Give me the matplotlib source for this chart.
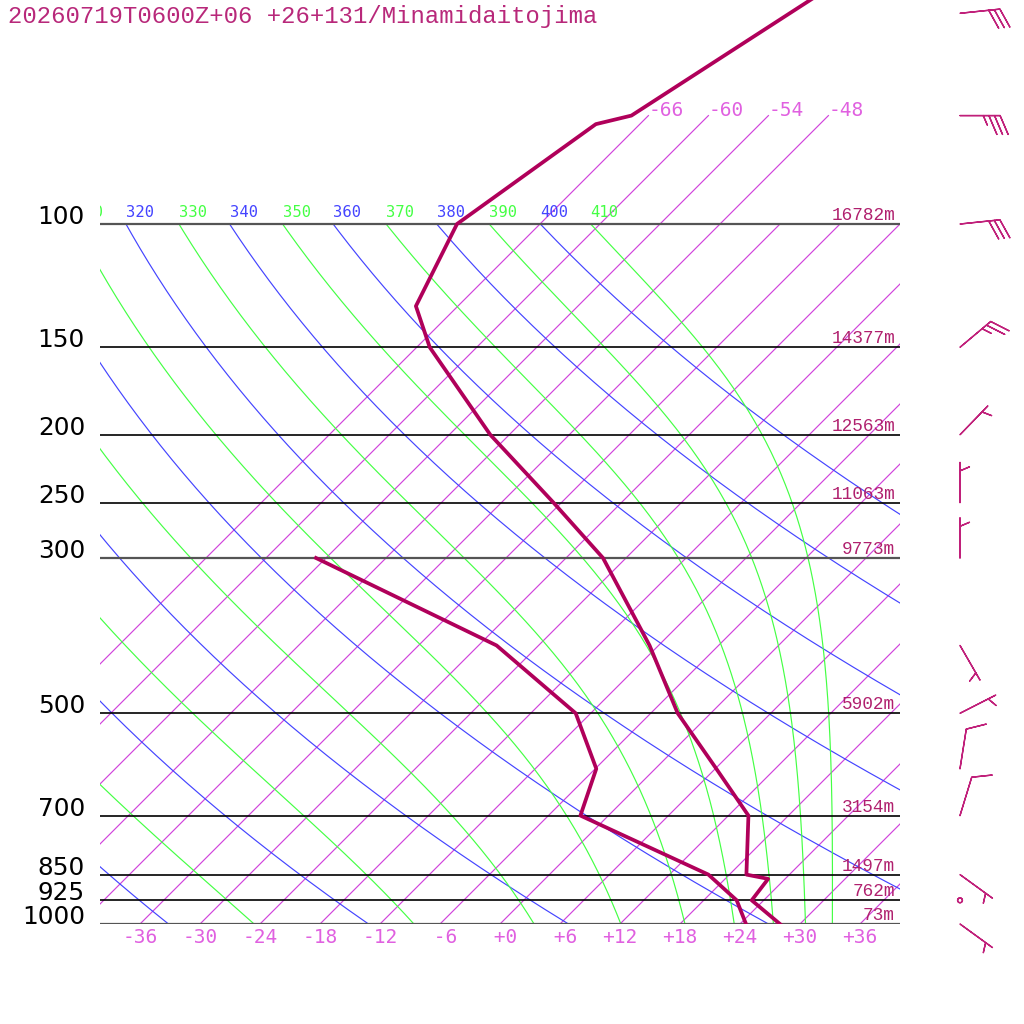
import matplotlib
matplotlib.use('Agg')
import matplotlib.pyplot as plt
import matplotlib.transforms as mtransforms
import numpy as np

# sounding
title = '20260719T0600Z+06 +26+131/Minamidaitojima'

t_pres = [1000, 925, 862, 850, 700, 600, 500, 400, 300, 250, 200, 150, 131, 100, 72, 70, 50, 30]
t_temp = [28.0, 22.8, 22.3, 19.7, 14.0, 6.1, -3.3, -12.9, -26.3, -36.8, -49.9, -64.7, -70.2,
          -74.3, -70.4, -67.7, -62.1, -53.6]

td_pres = [1000, 925, 850, 700, 600, 500, 400, 300]
td_temp = [24.6, 21.3, 15.9, -2.8, -5.9, -13.5, -28.2, -55.0]

wind_pres = [1000, 925, 850, 700, 600, 500, 400, 300, 250, 200, 150, 100, 70, 50]
wind_dir = [126, 0, 126, 17, 9, 63, 150, 0, 0, 44, 50, 84, 90, 84]
wind_spd = [5, 0, 5, 10, 10, 5, 5, 5, 5, 5, 25, 30, 35, 30]

std_pres = [1000, 925, 850, 700, 500, 300, 250, 200, 150, 100]
std_hgt = [73, 762, 1497, 3154, 5902, 9773, 11063, 12563, 14377, 16782]

isotherms = np.arange(-66, 37, 6)
isotherm_top = [-66, -60, -54, -48]   # these run up to 70 hPa and get a label
bottom_labels = np.arange(-36, 37, 6)
dry_theta = np.arange(240, 401, 20)
moist_thetae = np.arange(250, 411, 20)

SKEW = 30.4  # degC per e-fold of pressure -> 45 deg isotherms
P_TOP = 1000 * np.exp(-924 / 304.)

C_TRACE = '#b0005a'
C_TEXT = '#b0206e'
C_ISO = '#d044dc'
C_ISO_TXT = '#e060e0'
C_DRY = '#4444ff'
C_MOIST = '#44ff44'


def skew_x(t, p):
    return np.asarray(t, float) + SKEW * np.log(1000. / np.asarray(p, float))


def thetae_sat(tk, p):
    # Bolton 1980, saturated air
    tc = tk - 273.15
    es = 6.112 * np.exp(17.67 * tc / (tc + 243.5))
    r = 622. * es / (p - es)
    return (tk * (1000. / p) ** (0.2854 * (1 - 0.00028 * r))
            * np.exp((3.376 / tk - 0.00254) * r * (1 + 0.00081 * r)))


def moist_adiabat(te, p):
    lo = np.full_like(p, 150.)
    hi = np.full_like(p, 310.)
    for _ in range(50):
        mid = 0.5 * (lo + hi)
        above = thetae_sat(mid, p) > te
        hi = np.where(above, mid, hi)
        lo = np.where(above, lo, mid)
    return 0.5 * (lo + hi) - 273.15


fig = plt.figure(figsize=(10.24, 10.24), dpi=100)
ax = fig.add_axes([100 / 1024, 100 / 1024, 800 / 1024, 924 / 1024])
ax.set_yscale('log')
ax.set_ylim(1000, P_TOP)
ax.set_xlim(-40, 40)
ax.axis('off')

lift = ax.transData + mtransforms.ScaledTranslation(0, 3 / 72., fig.dpi_scale_trans)
p_line = np.geomspace(1000, 100, 200)

# isotherms
for t in isotherms:
    ptop = 70 if t in isotherm_top else 100
    pp = np.array([1000, ptop])
    ax.plot(skew_x([t, t], pp), pp, color=C_ISO, lw=0.85, zorder=1)
    if t in isotherm_top:
        ax.text(skew_x(t, 70), 70, '%+3d' % t, ha='left', va='baseline',
                family='DejaVu Sans Mono', fontsize=14, color=C_ISO_TXT)
for t in bottom_labels:
    ax.annotate('%+3d' % t, (t, 1000), xytext=(0, -9.5), textcoords='offset points',
                ha='center', va='center', family='DejaVu Sans Mono', fontsize=14,
                color=C_ISO_TXT, annotation_clip=False)


def adiabat_label(x, s, color):
    # only labels that reach into the plot; they are cut at its left edge
    if x > -45:
        ax.text(x, 100, s, ha='left', va='bottom', clip_on=True, transform=lift,
                family='DejaVu Sans Mono', fontsize=11.2, color=color)


# dry adiabats
for th in dry_theta:
    tt = th * (p_line / 1000.) ** 0.2857 - 273.15
    ax.plot(skew_x(tt, p_line), p_line, color=C_DRY, lw=0.85, zorder=2)
    adiabat_label(skew_x(tt[-1], 100), str(th), C_DRY)

# moist adiabats
for te in moist_thetae:
    tt = moist_adiabat(te, p_line)
    ax.plot(skew_x(tt, p_line), p_line, color=C_MOIST, lw=0.85, zorder=2)
    adiabat_label(skew_x(tt[-1], 100), str(te), C_MOIST)

# standard levels
for p, h in zip(std_pres, std_hgt):
    dark = p in (1000, 300, 100)
    ax.plot([-40, 40], [p, p], color='#555555' if dark else 'black',
            lw=1.6 if dark else 1.2, zorder=3)
    ax.text(-41.5, p, str(p), ha='right', va='baseline', clip_on=False,
            family='DejaVu Sans', fontsize=17.8, color='black')
    ax.text(39.5, p, '%dm' % h, ha='right', va='bottom',
            family='Liberation Mono', fontsize=12.8, color=C_TEXT)

# temperature and dewpoint
ax.plot(skew_x(t_temp, t_pres), t_pres, color=C_TRACE, lw=2.7, zorder=5)
ax.plot(skew_x(td_temp, td_pres), td_pres, color=C_TRACE, lw=2.7, zorder=5)

# wind barbs
wd = np.radians(wind_dir)
u = -np.array(wind_spd) * np.sin(wd)
v = -np.array(wind_spd) * np.cos(wd)
ax.barbs(np.full(len(wind_pres), 46.0), wind_pres, u, v, length=7.6,
         sizes=dict(spacing=0.14, height=0.47, width=0.4, emptybarb=0.06),
         color='#c0207a', linewidth=1.0, clip_on=False, zorder=6)

fig.text(8 / 1024, 1 - 17 / 1024, title, ha='left', va='center',
         family='Liberation Mono', fontsize=17.2, color='#b8287a')

fig.savefig('out.png', dpi=100)
